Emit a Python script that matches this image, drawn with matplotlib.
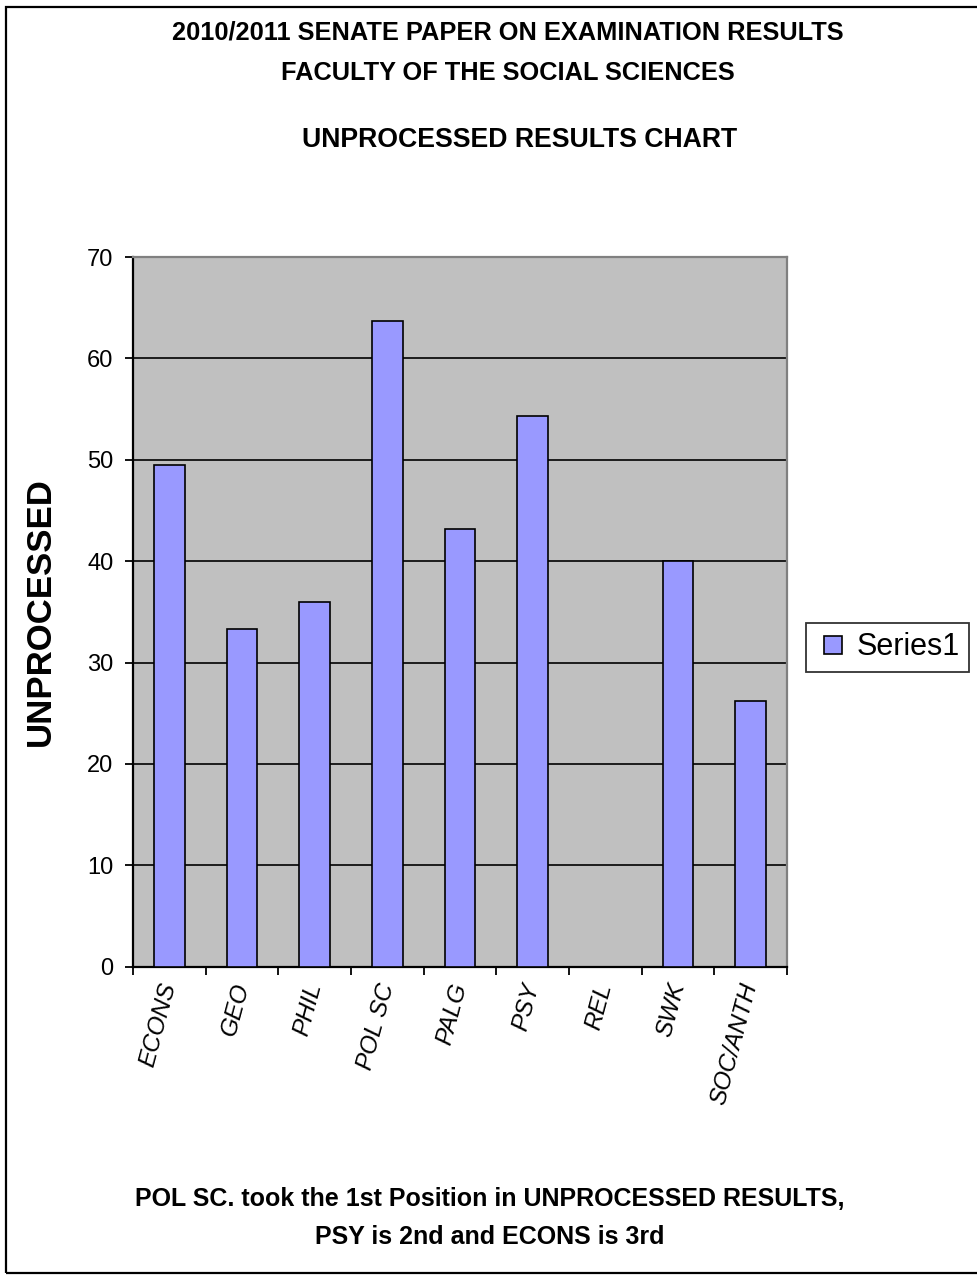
import matplotlib
matplotlib.use("Agg")
import matplotlib.pyplot as plt
from matplotlib.patches import Rectangle
from matplotlib.lines import Line2D
import numpy as np

plt.rcParams['font.family'] = ['Liberation Sans', 'DejaVu Sans']

# Unprocessed results by department
departamentos = ["ECONS", "GEO", "PHIL", "POL SC", "PALG", "PSY", "REL", "SWK", "SOC/ANTH"]
nao_processados = [49.5, 33.3, 36.0, 63.7, 43.2, 54.3, 0, 40.0, 26.2]

titulo = "2010/2011 SENATE PAPER ON EXAMINATION RESULTS\nFACULTY OF THE SOCIAL SCIENCES"
subtitulo = "UNPROCESSED RESULTS CHART"
rodape = "POL SC. took the 1st Position in UNPROCESSED RESULTS,\nPSY is 2nd and ECONS is 3rd"

W, H = 978, 1280
fig = plt.figure(figsize=(W / 100, H / 100), dpi=100)

# moldura em volta do grafico inteiro (lado direito fica fora da imagem)
moldura = Rectangle((6.5 / W, 7 / H), 1.0, (H - 14) / H, transform=fig.transFigure,
                    fill=False, edgecolor="black", linewidth=1.6, clip_on=False)
fig.patches.append(moldura)

ax = fig.add_axes([133 / W, 313.3 / H, 654 / W, 709.7 / H])
ax.set_facecolor("#C0C0C0")

x = np.arange(len(departamentos))
ax.bar(x, nao_processados, width=0.42, color="#9999FF", edgecolor="black",
       linewidth=1.2, zorder=3)

ax.set_xlim(-0.5, len(departamentos) - 0.5)
ax.set_ylim(0, 70)
ax.set_yticks(range(0, 71, 10))
ax.yaxis.grid(True, color="black", linewidth=1.2, zorder=1)
ax.set_axisbelow(True)

# ticks entre as categorias, rotulos no centro
ax.set_xticks(x)
ax.set_xticklabels(departamentos, rotation=75, ha="right", va="center",
                   rotation_mode="anchor", style="italic", fontsize=17.5)
ax.set_xticks(np.arange(-0.5, len(departamentos)), minor=True)
ax.tick_params(axis="x", which="major", length=0, pad=12)
ax.tick_params(axis="x", which="minor", length=6, width=1.3, direction="out")
ax.tick_params(axis="y", length=6, width=1.3, direction="out", labelsize=17, pad=8)

for lado in ["left", "bottom"]:
    ax.spines[lado].set_color("black")
    ax.spines[lado].set_linewidth(1.6)
for lado in ["top", "right"]:
    ax.spines[lado].set_color("#808080")
    ax.spines[lado].set_linewidth(1.6)

fig.text(40 / W, 1 - 612 / H, "UNPROCESSED", rotation=90, ha="center", va="center",
         fontsize=25, fontweight="bold")

# legenda com quadradinho da serie
marcador = Line2D([], [], marker="s", linestyle="none", markersize=13.5,
                  markerfacecolor="#9999FF", markeredgecolor="black", markeredgewidth=1.2)
leg = ax.legend([marcador], ["Series1"], loc="center left", bbox_to_anchor=(1.029, 0.45),
                fontsize=22, frameon=True, fancybox=False, edgecolor="black",
                handlelength=1.2, handletextpad=0.16, borderpad=0.3, borderaxespad=0)
leg.get_frame().set_linewidth(1.3)

fig.text(508 / W, 1 - 53 / H, titulo, ha="center", va="center", fontsize=18.3,
         fontweight="bold", linespacing=1.85)
fig.text(520 / W, 1 - 140 / H, subtitulo, ha="center", va="center", fontsize=19.2,
         fontweight="bold")
fig.text(490 / W, 1 - 1218 / H, rodape, ha="center", va="center", fontsize=18,
         fontweight="bold", linespacing=1.7)

fig.savefig("out.png", dpi=100)
